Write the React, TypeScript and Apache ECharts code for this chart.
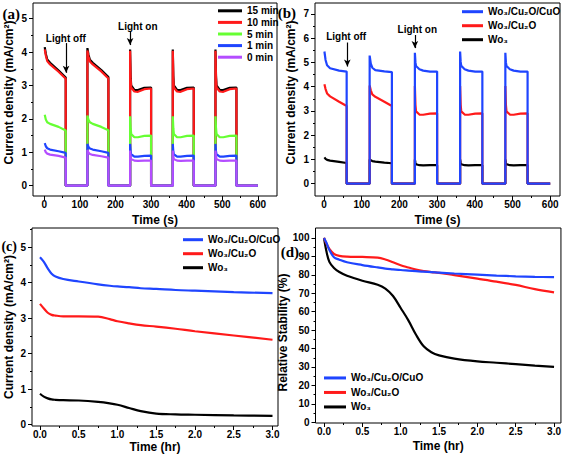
import React, { useEffect, useRef } from 'react';
import * as echarts from 'echarts';

// ---------- data ----------
// panel (a) and (b): time (s) of each point in the light on/off chopping runs
const timeOnOff = [
  1, 4, 8, 16, 40, 60, 60,
  121, 121, 124, 128, 136, 160, 180, 180,
  241, 241, 242.5, 244, 253, 263, 281, 300, 300,
  361, 361, 362.5, 364, 373, 383, 401, 420, 420,
  481, 481, 482.5, 484, 493, 503, 521, 540, 540,
  600,
];
const a15min = [
  4.15, 3.95, 3.78, 3.68, 3.45, 3.24, 0,
  0, 4.12, 3.92, 3.77, 3.68, 3.46, 3.25, 0,
  0, 4.08, 3.3, 3.0, 2.87, 2.86, 2.93, 2.94, 0,
  0, 4.08, 3.3, 3.0, 2.87, 2.86, 2.93, 2.94, 0,
  0, 4.08, 3.3, 3.0, 2.87, 2.86, 2.93, 2.94, 0,
  0,
];
const a10min = [
  4.08, 3.9, 3.73, 3.63, 3.41, 3.2, 0,
  0, 4.05, 3.86, 3.72, 3.63, 3.42, 3.21, 0,
  0, 4.04, 3.22, 2.94, 2.82, 2.81, 2.89, 2.91, 0,
  0, 4.04, 3.22, 2.94, 2.82, 2.81, 2.89, 2.91, 0,
  0, 4.04, 3.22, 2.94, 2.82, 2.81, 2.89, 2.91, 0,
  0,
];
const a5min = [
  2.12, 1.98, 1.9, 1.85, 1.76, 1.65, 0,
  0, 2.1, 1.97, 1.9, 1.85, 1.76, 1.66, 0,
  0, 2.08, 1.72, 1.55, 1.45, 1.45, 1.49, 1.5, 0,
  0, 2.08, 1.72, 1.55, 1.45, 1.45, 1.49, 1.5, 0,
  0, 2.08, 1.72, 1.55, 1.45, 1.45, 1.49, 1.5, 0,
  0,
];
const a1min = [
  1.27, 1.18, 1.12, 1.08, 1.03, 0.98, 0,
  0, 1.25, 1.16, 1.11, 1.08, 1.03, 0.98, 0,
  0, 1.25, 1.02, 0.94, 0.87, 0.87, 0.89, 0.9, 0,
  0, 1.25, 1.02, 0.94, 0.87, 0.87, 0.89, 0.9, 0,
  0, 1.25, 1.02, 0.94, 0.87, 0.87, 0.89, 0.9, 0,
  0,
];
const a0min = [
  1.08, 1.0, 0.96, 0.93, 0.89, 0.84, 0,
  0, 1.07, 0.99, 0.95, 0.92, 0.88, 0.84, 0,
  0, 1.05, 0.88, 0.8, 0.75, 0.74, 0.75, 0.75, 0,
  0, 1.05, 0.88, 0.8, 0.75, 0.74, 0.75, 0.75, 0,
  0, 1.05, 0.88, 0.8, 0.75, 0.74, 0.75, 0.75, 0,
  0,
];
const bWCuOCuO = [
  5.45, 5.1, 4.88, 4.76, 4.66, 4.62, 0,
  0, 5.28, 4.95, 4.78, 4.68, 4.63, 4.6, 0,
  0, 5.4, 5.0, 4.85, 4.72, 4.66, 4.62, 4.62, 0,
  0, 5.45, 5.02, 4.86, 4.72, 4.66, 4.62, 4.62, 0,
  0, 5.4, 5.0, 4.85, 4.72, 4.66, 4.62, 4.62, 0,
  0,
];
const bWCuO = [
  4.1, 3.9, 3.72, 3.6, 3.38, 3.2, 0,
  0, 4.05, 3.85, 3.68, 3.58, 3.38, 3.2, 0,
  0, 4.03, 3.25, 2.98, 2.85, 2.84, 2.89, 2.9, 0,
  0, 4.03, 3.25, 2.98, 2.85, 2.84, 2.89, 2.9, 0,
  0, 4.03, 3.25, 2.98, 2.85, 2.84, 2.89, 2.9, 0,
  0,
];
const bW = [
  1.08, 1.02, 0.98, 0.95, 0.9, 0.85, 0,
  0, 1.0, 0.96, 0.93, 0.91, 0.87, 0.84, 0,
  0, 1.0, 0.86, 0.8, 0.76, 0.75, 0.76, 0.76, 0,
  0, 1.0, 0.86, 0.8, 0.76, 0.75, 0.76, 0.76, 0,
  0, 1.0, 0.86, 0.8, 0.76, 0.75, 0.76, 0.76, 0,
  0,
];

// panel (c): current density vs time (hr)
const timeC = [0, 0.05, 0.1, 0.15, 0.2, 0.3, 0.5, 0.75, 0.9, 1.0, 1.15, 1.3, 1.5, 1.75, 2.0, 2.5, 3.0];
const cWCuOCuO = [4.71, 4.58, 4.4, 4.25, 4.17, 4.1, 4.03, 3.95, 3.91, 3.89, 3.87, 3.84, 3.82, 3.79, 3.77, 3.73, 3.7];
const cWCuO = [3.4, 3.27, 3.15, 3.09, 3.07, 3.05, 3.05, 3.04, 2.97, 2.91, 2.85, 2.8, 2.76, 2.7, 2.63, 2.51, 2.39];
const cW = [0.87, 0.79, 0.74, 0.71, 0.7, 0.69, 0.68, 0.64, 0.6, 0.56, 0.47, 0.38, 0.31, 0.29, 0.28, 0.26, 0.25];

// panel (d): relative stability (%) vs time (hr)
const timeD = [0, 0.03, 0.07, 0.13, 0.2, 0.3, 0.5, 0.7, 0.8, 0.9, 1.0, 1.1, 1.2, 1.3, 1.4, 1.5, 1.7, 2.0, 2.25, 2.5, 2.75, 3.0];
const dWCuOCuO = [100, 97.5, 93.5, 89.5, 88.2, 86.8, 85.3, 84.0, 83.4, 83.0, 82.6, 82.3, 82.0, 81.7, 81.5, 81.2, 80.7, 80.1, 79.6, 79.2, 78.9, 78.7];
const dWCuO = [100, 97, 94, 91.3, 90.3, 89.9, 89.7, 89.3, 88.3, 86.8, 85.2, 84.0, 82.8, 82.0, 81.5, 81.1, 79.8, 77.9, 76.3, 74.5, 72.2, 70.5];
const dW = [100, 93, 87, 83.7, 81.5, 79.5, 76.8, 74.6, 72.5, 68.5, 62.0, 55.3, 47.5, 41.2, 38.0, 36.3, 34.5, 33.0, 32.3, 31.5, 30.7, 30.0];

// tick values
const xTicksTime = [0, 100, 200, 300, 400, 500, 600];
const xMinorTime = [50, 150, 250, 350, 450, 550];
const xTicksHr = [0, 0.5, 1.0, 1.5, 2.0, 2.5, 3.0];
const xMinorHr = [0.25, 0.75, 1.25, 1.75, 2.25, 2.75];
const yTicksA = [0, 1, 2, 3, 4, 5];
const yMinorA = [0.5, 1.5, 2.5, 3.5, 4.5];
const yTicksB = [0, 1, 2, 3, 4, 5, 6, 7];
const yMinorB = [0.5, 1.5, 2.5, 3.5, 4.5, 5.5, 6.5];
const yTicksC = [0, 1, 2, 3, 4, 5];
const yMinorC = [0.5, 1.5, 2.5, 3.5, 4.5, 5.5];
const yTicksD = [0, 10, 20, 30, 40, 50, 60, 70, 80, 90, 100];
const yMinorD = [5, 15, 25, 35, 45, 55, 65, 75, 85, 95];

// names
const namesA = ['15 min', '10 min', '5 min', '1 min', '0 min'];
const N_WCC = 'Wo\u2083/Cu\u2082O/CuO';
const N_WC = 'Wo\u2083/Cu\u2082O';
const N_W = 'Wo\u2083';
const namesB = [N_WCC, N_WC, N_W];

// ---------- styling ----------
const FONT = '"Liberation Sans", Arial, Helvetica, sans-serif';
const SERIF = '"Liberation Serif", "Times New Roman", serif';
const BLACK = '#000000';
const RED = '#ff1a1a';
const GREEN = '#66ff33';
const BLUE = '#1f45ff';
const PURPLE = '#b44dff';
const LW = 2.2;

const zip = (xs: number[], ys: number[]) => xs.map((x, i) => [x, ys[i]]);

function axisPair(
  dim: 'x' | 'y',
  gridIndex: number,
  min: number,
  max: number,
  majors: number[],
  minors: number[],
  name: string,
  nameGap: number,
  decimals: number,
  namePadding: number[] = [0, 0, 0, 0]
) {
  const main: any = {
    type: 'value',
    gridIndex,
    min,
    max,
    position: dim === 'x' ? 'bottom' : 'left',
    axisLine: { show: false, onZero: false },
    axisTick: {
      show: true,
      inside: false,
      length: 4,
      customValues: majors,
      lineStyle: { color: '#000', width: 1 },
    },
    axisLabel: {
      show: true,
      customValues: majors,
      formatter: (v: number) => v.toFixed(decimals),
      margin: dim === 'x' ? 3 : 6,
      color: '#000',
      fontSize: 10,
      fontWeight: 'bold',
      fontFamily: FONT,
    },
    splitLine: { show: false },
    name,
    nameLocation: 'middle',
    nameGap,
    nameTextStyle: {
      color: '#000',
      fontSize: 12,
      fontWeight: 'bold',
      fontFamily: FONT,
      padding: namePadding,
    },
  };
  const minor: any = {
    type: 'value',
    gridIndex,
    min,
    max,
    position: dim === 'x' ? 'bottom' : 'left',
    axisLine: { show: false, onZero: false },
    axisTick: {
      show: true,
      inside: false,
      length: 2,
      customValues: minors,
      lineStyle: { color: '#000', width: 1 },
    },
    axisLabel: { show: false },
    splitLine: { show: false },
  };
  return [main, minor];
}

function lineSeries(name: string, g: number, data: number[][], color: string, smooth: boolean, extra: any = {}) {
  return {
    type: 'line',
    name,
    xAxisIndex: g * 2,
    yAxisIndex: g * 2,
    data,
    symbol: 'none',
    showSymbol: false,
    smooth: smooth ? 0.35 : false,
    lineStyle: { color, width: LW },
    itemStyle: { color },
    emphasis: { disabled: true },
    ...extra,
  };
}

function arrowMarks(lines: number[][][]) {
  return {
    silent: true,
    symbol: ['none', 'arrow'],
    symbolSize: [5, 7],
    label: { show: false },
    emphasis: { disabled: true },
    lineStyle: { color: '#000', width: 1.2, type: 'solid' },
    data: lines.map(([s, e]) => [{ coord: s }, { coord: e }]),
  };
}

function legend(data: string[], left: number, top: number, itemWidth: number, rowH: number) {
  return {
    data,
    orient: 'vertical',
    left,
    top,
    itemWidth,
    itemHeight: 3,
    itemGap: 0,
    icon: 'rect',
    selectedMode: false,
    padding: 0,
    textStyle: {
      color: '#000',
      fontSize: 10,
      fontWeight: 'bold',
      fontFamily: FONT,
      lineHeight: rowH,
    },
  };
}

function label(text: string, x: number, y: number, size: number, family: string, align = 'center') {
  return {
    type: 'text',
    x,
    y,
    silent: true,
    style: {
      text,
      fill: '#000',
      fontSize: size,
      fontWeight: 'bold',
      fontFamily: family,
      align,
      verticalAlign: 'middle',
    },
  };
}

const yName = 'Current density (mA/cm\u00b2)';

const option: any = {
  animation: false,
  backgroundColor: '#ffffff',
  grid: [
    { left: 33, top: 3, width: 244, height: 193, show: true, borderColor: '#000', borderWidth: 1 },
    { left: 315, top: 3, width: 245, height: 193, show: true, borderColor: '#000', borderWidth: 1 },
    { left: 32, top: 228, width: 246, height: 198, show: true, borderColor: '#000', borderWidth: 1 },
    { left: 315.5, top: 228, width: 245.5, height: 195, show: true, borderColor: '#000', borderWidth: 1 },
  ],
  xAxis: [
    ...axisPair('x', 0, -32, 654, xTicksTime, xMinorTime, 'Time (s)', 18, 0),
    ...axisPair('x', 1, -24, 626, xTicksTime, xMinorTime, 'Time (s)', 18, 0),
    ...axisPair('x', 2, -0.103, 3.071, xTicksHr, xMinorHr, 'Time (hr)', 15, 1),
    ...axisPair('x', 3, -0.111, 3.09, xTicksHr, xMinorHr, 'Time (hr)', 17, 1),
  ],
  yAxis: [
    ...axisPair('y', 0, -0.31, 5.47, yTicksA, yMinorA, yName, 18, 0, [0, 0, 0, 14]),
    ...axisPair('y', 1, -0.51, 7.45, yTicksB, yMinorB, yName, 18, 0, [0, 0, 0, 14]),
    ...axisPair('y', 2, -0.037, 5.535, yTicksC, yMinorC, yName, 17, 0),
    ...axisPair('y', 3, -0.4, 105.4, yTicksD, yMinorD, 'Relative Stability (%)', 18, 0, [0, 14, 0, 0]),
  ],
  legend: [
    legend(namesA, 218, 5, 24, 11.6),
    legend(namesB, 462, 4.7, 21, 14),
    legend(namesB, 183, 232.7, 20, 14),
    legend(namesB, 324, 370.7, 22, 14.5),
  ],
  series: [
    lineSeries(namesA[0], 0, zip(timeOnOff, a15min), BLACK, false, {
      markLine: arrowMarks([
        [[61, 4.27], [61, 3.38]],
        [[241, 4.61], [241, 4.21]],
      ]),
    }),
    lineSeries(namesA[1], 0, zip(timeOnOff, a10min), RED, false),
    lineSeries(namesA[2], 0, zip(timeOnOff, a5min), GREEN, false),
    lineSeries(namesA[3], 0, zip(timeOnOff, a1min), BLUE, false),
    lineSeries(namesA[4], 0, zip(timeOnOff, a0min), PURPLE, false),

    lineSeries(N_W, 1, zip(timeOnOff, bW), BLACK, false, {
      markLine: arrowMarks([
        [[61.7, 5.82], [61.7, 4.83]],
        [[241, 6.13], [241, 5.59]],
      ]),
    }),
    lineSeries(N_WC, 1, zip(timeOnOff, bWCuO), RED, false),
    lineSeries(N_WCC, 1, zip(timeOnOff, bWCuOCuO), BLUE, false),

    lineSeries(N_W, 2, zip(timeC, cW), BLACK, true),
    lineSeries(N_WC, 2, zip(timeC, cWCuO), RED, true),
    lineSeries(N_WCC, 2, zip(timeC, cWCuOCuO), BLUE, true),

    lineSeries(N_W, 3, zip(timeD, dW), BLACK, true),
    lineSeries(N_WC, 3, zip(timeD, dWCuO), RED, true),
    lineSeries(N_WCC, 3, zip(timeD, dWCuOCuO), BLUE, true),
  ],
  graphic: [
    label('(a)', 20, 14, 15, SERIF, 'right'),
    label('(b)', 296, 13.3, 15, SERIF, 'right'),
    label('(c)', 17, 246.3, 14, SERIF, 'right'),
    label('(d)', 299, 251.5, 15, SERIF, 'right'),
    label('Light off', 65.8, 38.5, 10, FONT),
    label('Light on', 137.8, 26.5, 10, FONT),
    label('Light off', 346.2, 36.5, 10, FONT),
    label('Light on', 417.3, 29, 10, FONT),
  ],
};

export default function App() {
  const ref = useRef<HTMLDivElement>(null);
  useEffect(() => {
    if (!ref.current) return;
    const chart = echarts.init(ref.current, null, { renderer: 'svg' });
    chart.setOption(option);
    return () => {
      chart.dispose();
    };
  }, []);
  return (
    <div
      ref={ref}
      style={{ position: 'fixed', left: 0, top: 0, width: 564, height: 456, background: '#fff' }}
    />
  );
}
